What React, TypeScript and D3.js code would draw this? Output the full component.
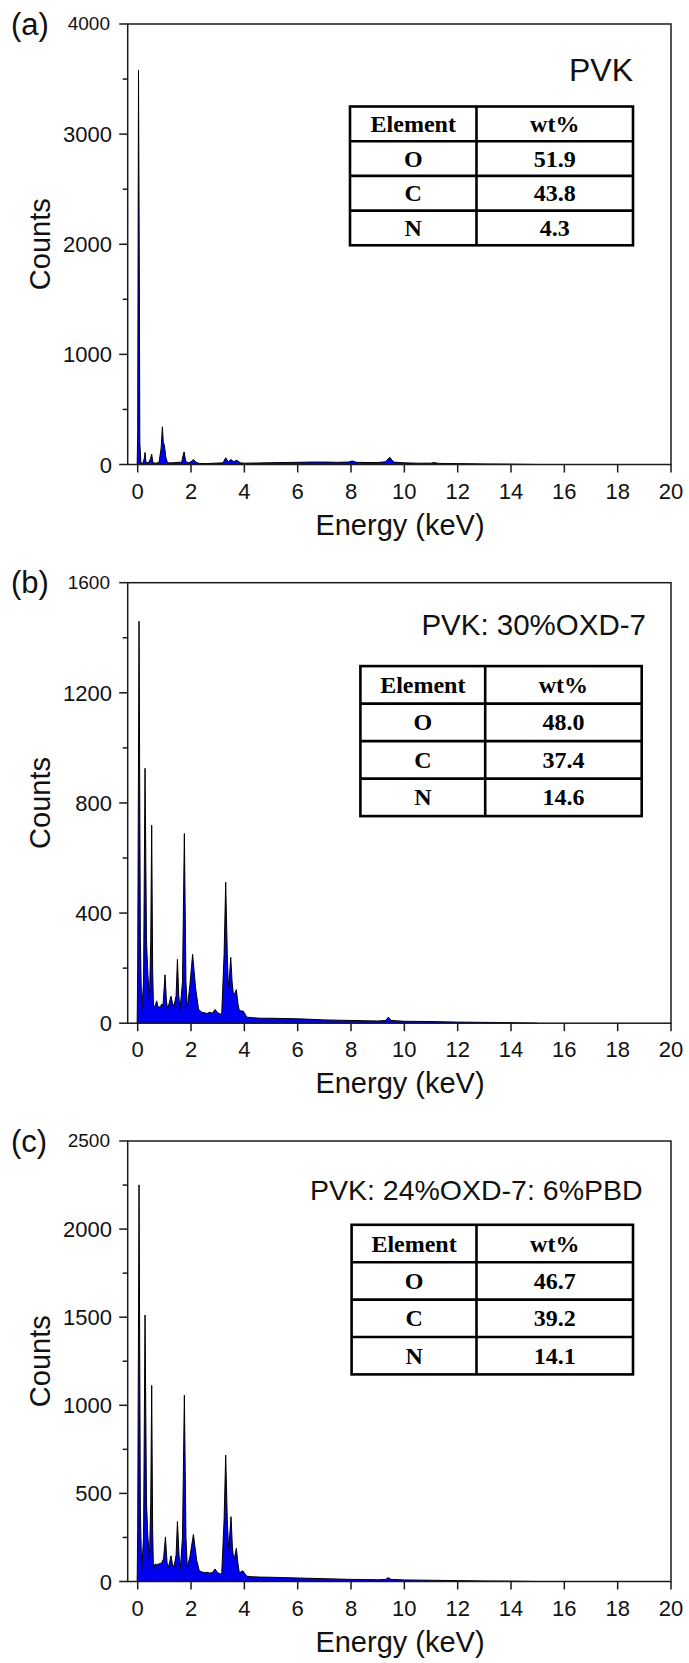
import React from 'react';
import * as d3 from 'd3';

// ---------- data ----------
const xTickValues = [0, 2, 4, 6, 8, 10, 12, 14, 16, 18, 20];
const panelLabels = ['(a)', '(b)', '(c)'];
const sampleNames = ['PVK', 'PVK: 30%OXD-7', 'PVK: 24%OXD-7: 6%PBD'];
const yMaxes = [4000, 1600, 2500];
const yMajorSteps = [1000, 400, 500];
const tableHeader = ['Element', 'wt%'];
const elements = ['O', 'C', 'N'];
const wtA = ['51.9', '43.8', '4.3'];
const wtB = ['48.0', '37.4', '14.6'];
const wtC = ['46.7', '39.2', '14.1'];

const energyA = [-0.02, 0.0, 0.03, 0.06, 0.08, 0.12, 0.2, 0.25, 0.275, 0.31, 0.4, 0.48, 0.525, 0.57, 0.7, 0.8, 0.88, 0.925, 0.96, 1.0, 1.06, 1.12, 1.3, 1.5, 1.65, 1.7, 1.74, 1.8, 1.9, 2.0, 2.09, 2.2, 2.3, 2.6, 2.9, 3.2, 3.3, 3.4, 3.5, 3.6, 3.71, 3.85, 4.0, 4.5, 5.0, 5.5, 6.0, 6.5, 7.0, 7.5, 7.9, 8.05, 8.2, 8.6, 9.0, 9.3, 9.45, 9.6, 10.0, 10.5, 11.0, 11.1, 11.3, 12.0, 13.0, 14.0, 15.0];
const countsA = [0, 300, 3580, 1800, 200, 15, 12, 60, 109, 20, 15, 50, 94, 15, 12, 20, 150, 342, 200, 176, 60, 15, 15, 20, 20, 80, 115, 30, 15, 25, 45, 20, 10, 8, 12, 15, 61, 25, 45, 25, 39, 15, 12, 14, 16, 18, 20, 22, 22, 20, 22, 32, 20, 18, 18, 25, 66, 22, 15, 12, 12, 18, 10, 8, 5, 3, 0];

const energyB = [-0.02, 0.0, 0.05, 0.1, 0.15, 0.22, 0.275, 0.33, 0.375, 0.44, 0.49, 0.525, 0.56, 0.59, 0.65, 0.71, 0.76, 0.85, 0.9, 0.95, 1.025, 1.08, 1.125, 1.2, 1.25, 1.3, 1.36, 1.44, 1.49, 1.54, 1.59, 1.68, 1.75, 1.81, 1.86, 1.96, 2.06, 2.17, 2.28, 2.4, 2.5, 2.6, 2.7, 2.8, 2.9, 3.0, 3.15, 3.24, 3.3, 3.36, 3.4, 3.45, 3.49, 3.54, 3.59, 3.65, 3.7, 3.76, 3.81, 3.9, 3.96, 4.09, 4.3, 4.6, 5.0, 5.5, 6.0, 6.5, 7.0, 7.5, 8.0, 8.5, 9.0, 9.3, 9.4, 9.5, 10.0, 11.0, 12.0, 13.0, 14.0, 15.0];
const countsB = [0, 200, 1460, 300, 41, 150, 926, 300, 191, 79, 300, 719, 200, 66, 60, 81, 60, 58, 70, 65, 176, 80, 51, 80, 98, 75, 60, 100, 232, 100, 51, 150, 689, 150, 54, 141, 250, 129, 51, 40, 38, 35, 40, 36, 50, 38, 31, 250, 512, 250, 129, 180, 239, 150, 104, 110, 122, 70, 47, 44, 44, 22, 20, 18, 18, 17, 16, 14, 12, 11, 10, 9, 8, 10, 22, 10, 7, 6, 4, 3, 2, 0];

const energyC = [-0.02, 0.0, 0.05, 0.1, 0.15, 0.22, 0.275, 0.33, 0.375, 0.44, 0.49, 0.525, 0.56, 0.59, 0.65, 0.71, 0.8, 0.9, 0.97, 1.04, 1.1, 1.14, 1.2, 1.25, 1.3, 1.36, 1.44, 1.49, 1.55, 1.6, 1.68, 1.75, 1.81, 1.86, 1.96, 2.09, 2.21, 2.31, 2.4, 2.5, 2.6, 2.7, 2.8, 2.9, 3.0, 3.15, 3.24, 3.3, 3.36, 3.41, 3.46, 3.5, 3.55, 3.6, 3.65, 3.7, 3.76, 3.81, 3.88, 3.94, 4.09, 4.3, 4.6, 5.0, 5.5, 6.0, 6.5, 7.0, 7.5, 8.0, 8.5, 9.0, 9.3, 9.4, 9.5, 10.0, 11.0, 12.0, 13.0, 14.0, 15.0];
const countsC = [0, 300, 2251, 400, 61, 250, 1512, 450, 273, 121, 450, 1113, 300, 65, 100, 95, 100, 105, 130, 253, 110, 77, 110, 146, 100, 81, 150, 340, 150, 71, 250, 1057, 250, 81, 142, 267, 121, 61, 55, 50, 52, 48, 50, 71, 50, 40, 350, 718, 350, 182, 280, 368, 200, 121, 150, 188, 100, 51, 55, 61, 30, 27, 25, 24, 22, 20, 18, 16, 14, 12, 11, 10, 12, 22, 12, 9, 7, 5, 3, 2, 0];

const energies = [energyA, energyB, energyC];
const counts = [countsA, countsB, countsC];
const wts = [wtA, wtB, wtC];

// ---------- layout ----------
const W = 689;
const H = 1663;
const plotLeft = 127.7;
const plotRight = 671;
const panelTops = [24, 582.7, 1141];
const panelH = 440.5;
const tableBoxes = [
  { left: 350, right: 633, mid: 476.5, top: 106.5, rowH: 34.7 },
  { left: 360.4, right: 641.7, mid: 485.2, top: 666.1, rowH: 37.5 },
  { left: 351.6, right: 633, mid: 476.5, top: 1224.8, rowH: 37.4 },
];
const nameAnchors = [
  { x: 633, y: 81, size: 32 },
  { x: 646, y: 635, size: 29.5 },
  { x: 642.6, y: 1199.5, size: 28.5 },
];

const SANS = '"Liberation Sans", Arial, sans-serif';
const SERIF = '"Liberation Serif", "Times New Roman", serif';
const AX = '#1a1a1a';

function Panel({ i }: { i: number }) {
  const top = panelTops[i];
  const bottom = top + panelH;
  const x = d3.scaleLinear().domain([-0.375, 20]).range([plotLeft, plotRight]);
  const y = d3.scaleLinear().domain([0, yMaxes[i]]).range([bottom, top]);
  const pts = energies[i].map((e, k) => [e, counts[i][k]] as [number, number]);
  const area = d3.area<[number, number]>().x(d => x(d[0])).y0(y(0)).y1(d => y(d[1]));
  const line = d3.line<[number, number]>().x(d => x(d[0])).y(d => y(d[1]));
  const major = d3.range(0, yMaxes[i] + 1, yMajorSteps[i]);
  const minor = d3.range(yMajorSteps[i] / 2, yMaxes[i], yMajorSteps[i]);
  const tb = tableBoxes[i];
  const rows = [tableHeader, ...elements.map((el, k) => [el, wts[i][k]])];
  const nm = nameAnchors[i];
  return (
    <g>
      <path d={area(pts) || ''} fill="#0000f0" />
      <path d={line(pts) || ''} fill="none" stroke="#000" strokeWidth={1} strokeLinejoin="round" />
      {/* frame */}
      <rect x={plotLeft} y={top} width={plotRight - plotLeft} height={panelH} fill="none" stroke={AX} strokeWidth={1.5} />
      {/* y ticks */}
      {major.map(v => {
        const isTop = v === yMaxes[i];
        return (
          <g key={'ym' + v}>
            <line x1={plotLeft - 8.5} x2={plotLeft} y1={y(v)} y2={y(v)} stroke={AX} strokeWidth={1.5} />
            <text x={isTop ? 110 : 112} y={y(v) + (isTop ? 6 : 8)} textAnchor="end" fontFamily={SANS} fontSize={isTop ? 19 : 22} fill="#111">{v}</text>
          </g>
        );
      })}
      {minor.map(v => (
        <line key={'yn' + v} x1={plotLeft - 5} x2={plotLeft} y1={y(v)} y2={y(v)} stroke={AX} strokeWidth={1.5} />
      ))}
      {/* x ticks */}
      {xTickValues.map(v => (
        <g key={'x' + v}>
          <line x1={x(v)} x2={x(v)} y1={bottom} y2={bottom + 8} stroke={AX} strokeWidth={1.5} />
          <text x={x(v)} y={bottom + 34} textAnchor="middle" fontFamily={SANS} fontSize={22} fill="#111">{v}</text>
        </g>
      ))}
      <text x={400} y={bottom + 70} textAnchor="middle" fontFamily={SANS} fontSize={29} fill="#111">Energy (keV)</text>
      <text transform={`translate(50,${(top + bottom) / 2}) rotate(-90)`} textAnchor="middle" fontFamily={SANS} fontSize={29} fill="#111">Counts</text>
      <text x={11} y={top + 10.5} fontFamily={SANS} fontSize={31} fill="#111">{panelLabels[i]}</text>
      <text x={nm.x} y={nm.y} textAnchor="end" fontFamily={SANS} fontSize={nm.size} fill="#111">{sampleNames[i]}</text>
      {/* table */}
      <g>
        <rect x={tb.left} y={tb.top} width={tb.right - tb.left} height={tb.rowH * 4} fill="#fff" stroke="#000" strokeWidth={2.6} />
        <line x1={tb.mid} x2={tb.mid} y1={tb.top} y2={tb.top + tb.rowH * 4} stroke="#000" strokeWidth={2.6} />
        {[1, 2, 3].map(r => (
          <line key={'r' + r} x1={tb.left} x2={tb.right} y1={tb.top + tb.rowH * r} y2={tb.top + tb.rowH * r} stroke="#000" strokeWidth={2.6} />
        ))}
        {rows.map((row, r) => (
          <g key={'t' + r}>
            <text x={(tb.left + tb.mid) / 2} y={tb.top + tb.rowH * (r + 0.5) + 8} textAnchor="middle" fontFamily={SERIF} fontWeight="bold" fontSize={24} fill="#000">{row[0]}</text>
            <text x={(tb.mid + tb.right) / 2} y={tb.top + tb.rowH * (r + 0.5) + 8} textAnchor="middle" fontFamily={SERIF} fontWeight="bold" fontSize={24} fill="#000">{row[1]}</text>
          </g>
        ))}
      </g>
    </g>
  );
}

export default function App() {
  return (
    <svg width={W} height={H} viewBox={`0 0 ${W} ${H}`} style={{ position: 'absolute', left: 0, top: 0, background: '#fff' }}>
      <rect x={0} y={0} width={W} height={H} fill="#fff" />
      {[0, 1, 2].map(i => <Panel key={i} i={i} />)}
    </svg>
  );
}
